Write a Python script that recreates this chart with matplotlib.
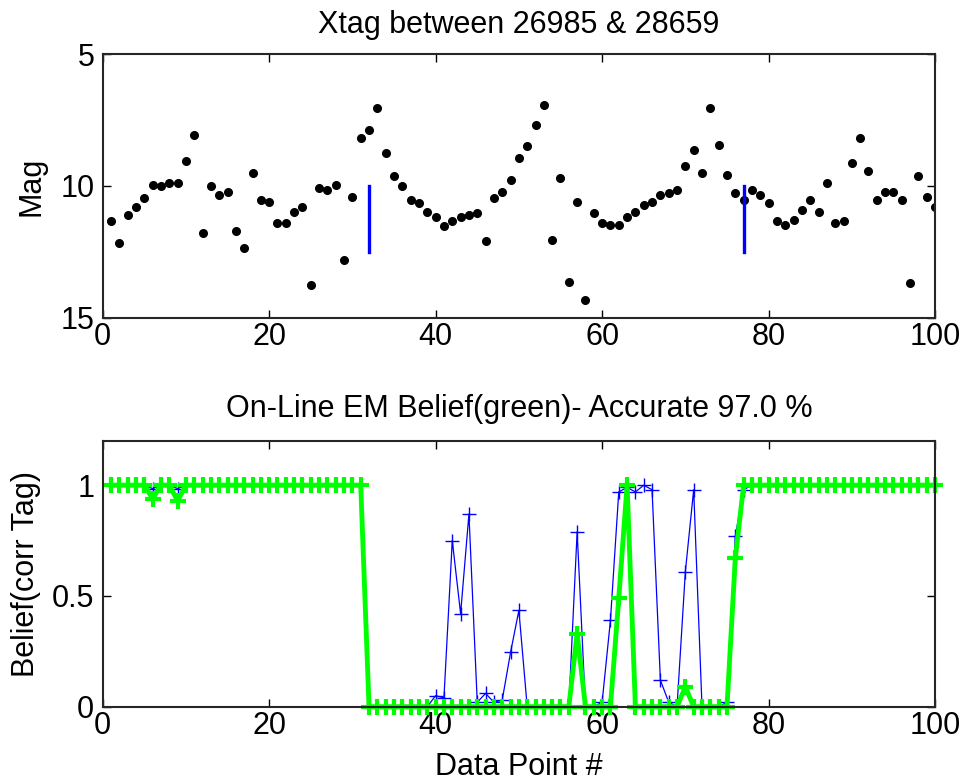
import numpy as np
import matplotlib
matplotlib.use("Agg")
import matplotlib.pyplot as plt

plt.rcParams['font.family'] = ['Liberation Sans', 'DejaVu Sans']

# 星等数据 (1..100)
mag = [11.34, 12.16, 11.09, 10.78, 10.46, 9.96, 10.01, 9.89, 9.89, 9.07,
       8.07, 11.78, 10.01, 10.34, 10.21, 11.72, 12.35, 9.51, 10.53, 10.59,
       11.41, 11.41, 10.97, 10.78, 13.74, 10.09, 10.15, 9.96, 12.79, 10.40,
       8.19, 7.88, 7.06, 8.76, 9.64, 10.01, 10.53, 10.65, 10.97, 11.16,
       11.53, 11.34, 11.16, 11.09, 11.03, 12.10, 10.46, 10.21, 9.76, 8.94,
       8.50, 7.69, 6.92, 12.04, 9.70, 13.62, 10.59, 14.31, 11.03, 11.41,
       11.47, 11.47, 11.16, 10.97, 10.72, 10.59, 10.34, 10.28, 10.15, 9.26,
       8.63, 9.51, 7.05, 8.44, 9.57, 10.28, 10.53, 10.15, 10.34, 10.65,
       11.34, 11.47, 11.28, 10.90, 10.53, 10.97, 9.90, 11.41, 11.34, 9.13,
       8.19, 9.45, 10.53, 10.21, 10.21, 10.53, 13.68, 9.64, 10.40, 10.78]
idx = np.arange(1, len(mag) + 1)

# 标记位置
mark_x = [32, 77]
mark_top = 10.0
mark_bot = 12.5

# 置信度 (blue / green)
belief_blue = [1.0] * 5 + [0.985] + [1.0] * 2 + [0.985] + [1.0] * 22 + \
    [0.0] * 8 + [0.05, 0.04, 0.75, 0.42, 0.87, 0.02, 0.06, 0.02, 0.03, 0.245,
                 0.435, 0.0, 0.0, 0.0, 0.0, 0.0, 0.0, 0.79, 0.0, 0.0,
                 0.02, 0.39, 0.97, 0.99, 0.97, 1.0, 0.98, 0.12, 0.02, 0.0,
                 0.61, 0.98, 0.0, 0.0, 0.0, 0.02, 0.77, 0.98] + [1.0] * 23
belief_green = [1.0] * 5 + [0.94] + [1.0] * 2 + [0.93] + [1.0] * 22 + \
    [0.0] * 25 + [0.33, 0.0, 0.0, 0.0, 0.0, 0.49, 1.0,
                  0.0, 0.0, 0.0, 0.0, 0.0, 0.0, 0.09,
                  0.0, 0.0, 0.0, 0.0, 0.0, 0.67] + [1.0] * 24

fs = 22

fig = plt.figure(figsize=(9.64, 7.82), dpi=100)

ax1 = fig.add_axes([0.1065, 0.5934, 0.8635, 0.3375])
ax1.plot(idx, mag, 'o', color='k', markersize=5.5)
for x in mark_x:
    ax1.plot([x, x], [mark_top, mark_bot], color='#0000ff', linewidth=2.4)
ax1.set_xlim(0, 100)
ax1.set_ylim(15, 5)
ax1.set_yticks([5, 10, 15])
ax1.set_xticks([0, 20, 40, 60, 80, 100])
ax1.set_ylabel('Mag', fontsize=fs, labelpad=10)
ax1.set_title('Xtag between 26985 & 28659', fontsize=fs, pad=15)

ax2 = fig.add_axes([0.1065, 0.0963, 0.8635, 0.3398])
ax2.plot(idx, belief_blue, '-+', color='#0000ff', linewidth=0.9,
         markersize=10, markeredgewidth=1.0, clip_on=False)
ax2.plot(idx, belief_green, '-+', color='#00ff00', linewidth=3.5,
         markersize=11, markeredgewidth=3.0, clip_on=False)
ax2.set_xlim(0, 100)
ax2.set_ylim(0, 1.2)
ax2.set_yticks([0, 0.5, 1])
ax2.set_yticklabels(['0', '0.5', '1'])
ax2.set_xticks([0, 20, 40, 60, 80, 100])
ax2.set_xlabel('Data Point #', fontsize=fs, labelpad=8)
ax2.set_ylabel('Belief(corr Tag)', fontsize=fs, labelpad=8)
ax2.set_title('On-Line EM Belief(green)- Accurate 97.0 %', fontsize=fs, pad=17)

for ax in (ax1, ax2):
    ax.tick_params(direction='in', top=True, right=True, length=6,
                   width=1, labelsize=fs)
    ax.tick_params(axis='x', pad=3)
    ax.tick_params(axis='y', pad=6)
    for s in ax.spines.values():
        s.set_linewidth(1.5)
        s.set_color('#262626')

fig.savefig('out.png', dpi=100)
